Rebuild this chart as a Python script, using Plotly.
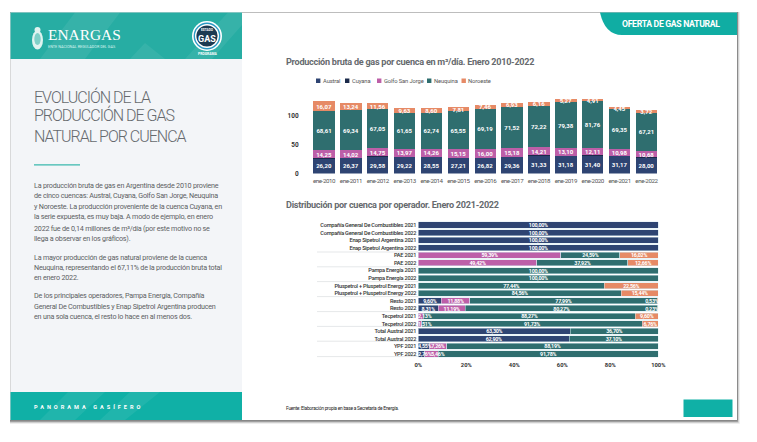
import plotly.graph_objects as go

W, H = 757, 442

# ---------- data: top chart ----------
years = ["ene-2010","ene-2011","ene-2012","ene-2013","ene-2014","ene-2015","ene-2016",
         "ene-2017","ene-2018","ene-2019","ene-2020","ene-2021","ene-2022"]
austral  = [26.20,26.37,29.58,29.22,28.55,27.21,26.82,29.36,31.33,31.18,31.40,31.17,28.00]
cuyana   = [0.30,0.30,0.30,0.25,0.25,0.25,0.20,0.20,0.20,0.15,0.15,0.15,0.14]
golfo    = [14.25,14.02,14.75,13.97,14.26,15.15,16.00,15.18,14.21,13.10,12.11,10.98,10.68]
neuquina = [68.61,69.34,67.05,61.65,62.74,65.55,69.19,71.52,72.22,79.38,81.76,69.35,67.21]
noroeste = [16.07,13.24,11.56,9.63,8.60,7.81,7.46,6.93,6.16,5.27,4.91,4.45,3.72]
y_ticks_top = [0, 50, 100]

# ---------- data: bottom chart ----------
operators = ["Compañía General De Combustibles 2021","Compañía General De Combustibles 2022",
             "Enap Sipetrol Argentina 2021","Enap Sipetrol Argentina 2022",
             "PAE 2021","PAE 2022","Pampa Energía 2021","Pampa Energía 2022",
             "Pluspetrol + Pluspetrol Energy 2021","Pluspetrol + Pluspetrol Energy 2022",
             "Resto 2021","Resto 2022","Tecpetrol 2021","Tecpetrol 2022",
             "Total Austral 2021","Total Austral 2022","YPF 2021","YPF 2022"]
op_austral  = [100,100,100,100,0,0,0,0,0,0,9.60,8.31,0,0,63.30,62.90,4.55,2.76]
op_golfo    = [0,0,0,0,59.39,49.42,0,0,0,0,11.88,11.19,2.13,1.51,0,0,7.26,5.46]
op_neuquina = [0,0,0,0,24.59,37.92,100,100,77.44,84.56,77.99,80.27,88.27,91.73,36.70,37.10,88.19,91.78]
op_noroeste = [0,0,0,0,16.02,12.66,0,0,22.56,15.44,0.53,0.23,9.60,6.76,0,0,0,0]
x_ticks_bottom = [0, 20, 40, 60, 80, 100]

series_names = ["Austral","Cuyana","Golfo San Jorge","Neuquina","Noroeste"]
series_colors = ["#2e4472","#1b2a4a","#bd5fa8","#2f6e6f","#e68a66"]

body_text = [
 (185.5,"La producción bruta de gas en Argentina desde 2010 proviene"),
 (195.5,"de cinco cuencas: Austral, Cuyana, Golfo San Jorge, Neuquina"),
 (206.5,"y Noroeste. La producción proveniente de la cuenca Cuyana, en"),
 (216.5,"la serie expuesta, es muy baja. A modo de ejemplo, en enero"),
 (228,"2022 fue de 0,14 millones de m³/día (por este motivo no se"),
 (238,"llega a observar en los gráficos)."),
 (257,"La mayor producción de gas natural proviene de la cuenca"),
 (267,"Neuquina, representando el 67,11% de la producción bruta total"),
 (277.5,"en enero 2022."),
 (295.5,"De los principales operadores, Pampa Energía, Compañía"),
 (306,"General De Combustibles y Enap Sipetrol Argentina producen"),
 (316.5,"en una sola cuenca, el resto lo hace en al menos dos."),
]

# ---------- helpers ----------
px = lambda v: v / W
py = lambda v: 1 - v / H
shapes, notes = [], []

def rect(x0, y0, x1, y1, fill, opacity=1, layer="below"):
    shapes.append(dict(type="rect", xref="paper", yref="paper", x0=px(x0), x1=px(x1),
                       y0=py(y0), y1=py(y1), fillcolor=fill, opacity=opacity,
                       line_width=0, layer=layer))

def line(x0, y0, x1, y1, color, width=1, layer="below"):
    shapes.append(dict(type="line", xref="paper", yref="paper", x0=px(x0), x1=px(x1),
                       y0=py(y0), y1=py(y1), line=dict(color=color, width=width), layer=layer))

def poly(points, fill, opacity=1, layer="below"):
    d = "M" + " L".join(f"{px(a):.5f},{py(b):.5f}" for a, b in points) + " Z"
    shapes.append(dict(type="path", xref="paper", yref="paper", path=d, fillcolor=fill,
                       opacity=opacity, line_width=0, layer=layer))

def circle(cx, cy, r, fill, layer="above", ry=None):
    ry = ry or r
    shapes.append(dict(type="circle", xref="paper", yref="paper", x0=px(cx-r), x1=px(cx+r),
                       y0=py(cy+ry), y1=py(cy-ry), fillcolor=fill, line_width=0, layer=layer))

def spaced(s, spacing):
    return f'<span style="letter-spacing:{spacing}px">{s}</span>'

def text(x, y, s, size, color, weight=400, family="Roboto", anchor="left", spacing=None):
    if spacing is not None:
        s = spaced(s, spacing)
    notes.append(dict(xref="paper", yref="paper", x=px(x), y=py(y), text=s, showarrow=False,
                      xanchor=anchor, yanchor="middle", borderpad=0,
                      font=dict(family=family, size=size, color=color, weight=weight)))

# ---------- page chrome ----------
for i, op in [(3.0,.06),(2.2,.10),(1.4,.18),(0.8,.30)]:
    rect(10, 12, 737+i, 421+i, "#333333", op)
rect(10, 12, 737.5, 420.5, "#7a7a7a")
rect(10.5, 12.5, 737, 420, "#ffffff")
rect(10.5, 12.5, 242, 420, "#f3f5f8")
rect(10.5, 12.5, 242, 59, "#27ada3")
rect(10.5, 392, 242, 420, "#10b0a6")
poly([(40,59),(75,12.5),(120,12.5),(85,59)], "#ffffff", .07)
poly([(130,59),(145,43),(165,59)], "#ffffff", .07)
poly([(185,59),(228,12.5),(242,12.5),(242,25),(212,59)], "#ffffff", .07)
poly([(40,420),(68,392),(105,392),(75,420)], "#ffffff", .07)
poly([(100,420),(130,392),(160,392),(125,420)], "#ffffff", .07)
shapes.append(dict(type="path", xref="paper", yref="paper", fillcolor="#10ada3", line_width=0, layer="below",
    path=(f"M{px(600):.5f},{py(12.5):.5f} L{px(737):.5f},{py(12.5):.5f} L{px(737):.5f},{py(35):.5f} "
          f"L{px(622):.5f},{py(35):.5f} Q{px(605):.5f},{py(35):.5f} {px(600):.5f},{py(12.5):.5f} Z")))
rect(683.5, 399.5, 732.5, 417, "#10b0a6")

# logos
circle(37.5, 40, 5.5, "#dff3f0", ry=9.5)
circle(37.5, 39, 3.2, "#7fd0c8", ry=6)
circle(37.5, 30, 3, "#dff3f0")
circle(207, 36, 15, "#ffffff")
circle(207, 36, 13.4, "#2b9ac4")
circle(207, 36, 12, "#ffffff")
circle(207, 36, 10.6, "#1d3a52")
text(46.5, 35, "ENARGAS", 15.4, "#ffffff", family="Liberation Serif")
text(47, 46.5, "ENTE NACIONAL REGULADOR DEL GAS", 3.8, "#d8f2ee")
text(207, 38.5, "GAS", 9, "#ffffff", 700, anchor="center")
text(207, 30.5, "ESTADO", 3.2, "#ffffff", 700, anchor="center")
text(207, 53.5, "PROGRAMA", 3.4, "#ffffff", 700, anchor="center")

# left column text
for y, s in [(96.5,"EVOLUCIÓN DE LA"),(115.5,"PRODUCCIÓN DE GAS"),(136,"NATURAL POR CUENCA")]:
    text(32.5, y, s, 16, "#666a6e", 300, spacing=-1.0)
rect(34, 164.3, 80, 165.6, "#3ab8ae")
for y, s in body_text:
    text(33, y, s, 7.2, "#5c5f63", 400, spacing=-0.22)
text(33, 406.5, "PANORAMA GASÍFERO", 5.6, "#ffffff", 700, spacing=3.0)
text(620.5, 24, "OFERTA DE GAS NATURAL", 8.7, "#ffffff", 700, spacing=-0.33)
text(285, 62, "Producción bruta de gas por cuenca en m³/día. Enero 2010-2022", 9.1, "#666a6e", 700, spacing=-0.27)
text(285, 205, "Distribución por cuenca por operador. Enero 2021-2022", 9.1, "#666a6e", 700, spacing=-0.27)
text(285, 408.5, "Fuente: Elaboración propia en base a Secretaría de Energía.", 4.85, "#222222", 400, spacing=-0.25)

# legend of the top chart
legend_x = [316, 345, 377, 427, 461.5]
for name, col, lx in zip(series_names, series_colors, legend_x):
    rect(lx, 78.5, lx+4.4, 83, col)
    text(lx+5.5, 80.8, name, 5.8, "#555555", 400, spacing=-0.12)

# separators of the bottom chart
for y in [252, 266.8, 281.6, 296.6, 311.6, 326.4, 341.2, 356.6]:
    line(317, y, 418, y, "#d4d6da", 0.6)

# ---------- traces ----------
fmt = lambda v: f"{v:.2f}".replace(".", ",")
fig = go.Figure()

for name, col, vals in zip(series_names, series_colors, [austral, cuyana, golfo, neuquina, noroeste]):
    fig.add_trace(go.Bar(
        x=years, y=vals, name=name, marker=dict(color=col, line_width=0),
        text=[("" if name == "Cuyana" else fmt(v)) for v in vals],
        textposition="inside", insidetextanchor="middle", textangle=0, constraintext="none",
        textfont=dict(family="Roboto", size=6, color="#ffffff", weight=700),
        xaxis="x", yaxis="y", showlegend=False))

op_series = [op_austral, op_golfo, op_neuquina, op_noroeste]
op_colors = [series_colors[0], series_colors[2], series_colors[3], series_colors[4]]
for name, col, vals in zip(["Austral","Golfo San Jorge","Neuquina","Noroeste"], op_colors, op_series):
    fig.add_trace(go.Bar(
        y=operators, x=vals, name=name, orientation="h",
        marker=dict(color=col, line=dict(color="#d5eaf0", width=0.5)),
        xaxis="x2", yaxis="y2", showlegend=False))

# value labels of the bottom chart sit above every bar, kept inside the 0-100 span
LABEL_W = 5.4      # width of one label, in axis percent
lab_x, lab_y, lab_t = [], [], []
for i, op in enumerate(operators):
    start, prev_right = 0.0, 0.0
    for vals in op_series:
        v = vals[i]
        if v <= 0:
            continue
        mid = start + v / 2
        mid = max(mid, prev_right + LABEL_W / 2)
        mid = min(mid, 100 - LABEL_W / 2)
        lab_x.append(mid); lab_y.append(op); lab_t.append(spaced(fmt(v) + "%", -0.25))
        prev_right = mid + LABEL_W / 2
        start += v
fig.add_trace(go.Scatter(
    x=lab_x, y=lab_y, text=lab_t, mode="text", textposition="middle center",
    textfont=dict(family="Roboto", size=5.4, color="#ffffff", weight=700),
    xaxis="x2", yaxis="y3", showlegend=False, hoverinfo="skip"))

top_y0, top_y1 = 173.5, 95.4
bot_y0, bot_y1 = 357.8, 221.2
LABEL_DROP = 0.7   # px, centres the label row on the bars
fig.update_layout(
    width=W, height=H, autosize=False, margin=dict(l=0, r=0, t=0, b=0, pad=0, autoexpand=False),
    paper_bgcolor="#ffffff", plot_bgcolor="rgba(0,0,0,0)",
    barmode="stack", bargap=0.205, showlegend=False,
    font=dict(family="Roboto"), shapes=shapes, annotations=notes,
    xaxis=dict(domain=[px(310.6), px(659.9)], anchor="y", type="category", showgrid=False,
               showline=False, zeroline=False, ticks="", ticklabelstandoff=2, tickangle=0,
               tickmode="array", tickvals=years, ticktext=[spaced(y, -0.42) for y in years],
               tickfont=dict(family="Roboto", size=6.2, color="#555555")),
    yaxis=dict(domain=[py(top_y0), py(top_y1)], anchor="x", range=[0, 136], tickvals=y_ticks_top,
               showgrid=False, zeroline=False, showline=False, ticks="", ticklabelstandoff=11,
               tickfont=dict(family="Roboto", size=6.4, color="#333333", weight=700)),
    xaxis2=dict(domain=[px(418.3), px(658.3)], anchor="y2", range=[0, 100], tickvals=x_ticks_bottom,
                ticktext=[f"{v}%" for v in x_ticks_bottom], showgrid=False, zeroline=False,
                showline=False, ticks="", ticklabelstandoff=2,
                tickfont=dict(family="Roboto", size=5.8, color="#333333", weight=700)),
    yaxis2=dict(domain=[py(bot_y0), py(bot_y1)], anchor="x2", type="category",
                categoryorder="array", categoryarray=operators, range=[17.5, -0.5],
                tickmode="array", tickvals=operators, ticktext=[spaced(o, -0.22) for o in operators],
                showgrid=False, zeroline=False, showline=False, ticks="", ticklabelstandoff=1,
                tickfont=dict(family="Roboto", size=5.6, color="#333333", weight=500)),
    yaxis3=dict(domain=[py(bot_y0 + LABEL_DROP), py(bot_y1 + LABEL_DROP)], anchor="x2", type="category",
                categoryorder="array", categoryarray=operators, range=[17.5, -0.5],
                showticklabels=False, showgrid=False, zeroline=False, showline=False, ticks=""),
)
fig.update_traces(cliponaxis=False)

fig.write_html("out.html", config=dict(displayModeBar=False),
               post_script="document.body.style.margin='0';document.body.style.overflow='hidden';")
